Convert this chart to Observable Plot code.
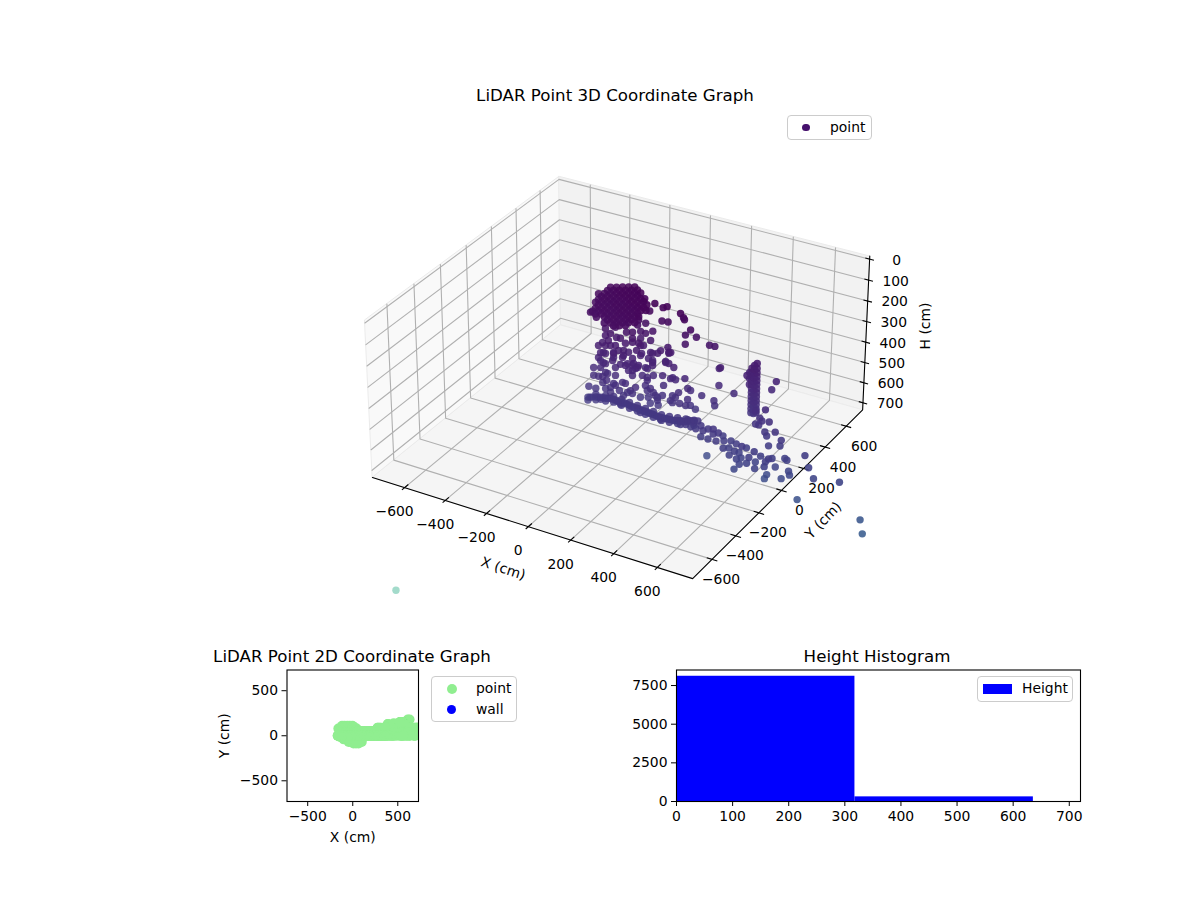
<!DOCTYPE html>
<html><head><meta charset="utf-8">
<script src="https://cdn.jsdelivr.net/npm/d3@7"></script>
<script src="https://cdn.jsdelivr.net/npm/@observablehq/plot@0.6"></script>
<style>
html,body{margin:0;padding:0;background:#fff}
#page{position:relative;width:1200px;height:900px;overflow:hidden;font-family:"DejaVu Sans",sans-serif;color:#000}
.slot{position:absolute}
.title{position:absolute;font-size:16.67px;line-height:20px;transform:translateX(-50%);white-space:nowrap}
.legend{position:absolute;background:#fff;border:1px solid #ccc;border-radius:4px;box-sizing:border-box}
.legend span{position:absolute;font-size:13.9px;line-height:16px;white-space:nowrap}
.legend i{position:absolute;display:block;border-radius:50%}
</style></head><body><div id="page"></div>
<script>
// [X cm, Y cm, H cm]
const blobPoints=[[-119,110,68],[-90,110,60],[-61,110,51],[-32,110,43],[-3,110,35],
[-160,80,95],[-131,80,86],[-102,80,78],[-73,80,70],[-44,80,62],[-15,80,53],[14,80,45],[43,80,37],
[-143,50,104],[-114,50,95],[-85,50,87],[-56,50,79],[-27,50,71],[2,50,62],[31,50,54],[60,50,46],[79,50,40],
[-126,20,113],[-97,20,105],[-68,20,96],[-39,20,88],[-10,20,80],[19,20,72],[48,20,63],[77,20,55],[106,20,47],
[-146,-10,137],[-137,-10,130],[-108,-10,122],[-79,-10,114],[-50,-10,105],[-21,-10,97],[8,-10,89],[37,-10,80],[66,-10,72],[95,-10,64],[119,-10,57],
[-100,-40,134],[-62,-40,123],[-33,-40,114],[-4,-40,106],[25,-40,98],[54,-40,90],[83,-40,81],[102,-40,76],
[-45,-70,132],[-16,-70,124],[13,-70,115],[42,-70,107],[71,-70,99],[100,-70,91],
[-125,95,78],[-96,95,69],[-68,95,61],[-39,95,53],[-10,95,45],[19,95,37],
[-137,65,95],[-108,65,87],[-79,65,79],[-50,65,70],[-22,65,62],[8,65,54],[37,65,45],
[-148,35,112],[-119,35,104],[-90,35,96],[-61,35,87],[-33,35,79],[-4,35,71],[25,35,63],[54,35,55],[83,35,46],
[-131,5,121],[-102,5,113],[-73,5,105],[-44,5,97],[-16,5,89],[13,5,80],[42,5,72],[71,5,64],[100,5,56],
[-114,-25,130],[-85,-25,122],[-56,-25,114],[-27,-25,106],[1,-25,98],[30,-25,89],[59,-25,81],[88,-25,73],
[-38,-55,123],[-9,-55,115],[19,-55,107],[48,-55,98],[77,-55,90],
[8,-85,124],[36,-85,116],[65,-85,107]];
const cloudNearPoints=[[79,0,117],[74,0,142],[50,0,183],[21,0,191],[-80,0,201],[-32,0,182],[-56,0,218],[-27,0,229],[-80,0,235],[-94,0,272],[-56,0,276],[-32,0,269],[16,0,245],[50,0,231],[79,0,227],[7,0,282],[69,0,264],[-104,0,324],[-80,0,321],[-114,0,350],[-90,0,368],[-46,0,345],[-41,0,310],[2,0,317],[-8,0,353],[50,0,308],[79,0,333],[50,0,342],[-138,0,405],[-104,0,396],[-32,0,375],[-80,0,413],[-138,0,443],[-114,0,441],[-75,0,449],[-94,0,465],[-32,0,413],[16,0,351],[31,0,371],[65,0,352],[50,0,390],[-162,0,503],[-128,0,503],[-80,0,490],[-56,0,502],[-32,0,461],[-13,0,481],[16,0,438],[65,0,443],[26,0,479],[50,0,477],
[-90,0,319],[-41,0,305],[-41,0,329],[7,0,306],[26,0,340],[55,0,331],[74,0,345],[-104,0,362],[-80,0,370],[50,0,366],[-70,0,415],[-94,0,436],[2,0,437],[-41,0,455],[-56,0,478],[40,0,466],[7,0,499],[-80,0,283],[-17,0,289],[31,0,284],[-66,0,255],[-8,0,228],[50,0,212],[-114,0,292]];
const cloudMidPoints=[[127,50,50],[166,50,59],[185,50,49],[103,50,92],[161,50,123],[190,50,120],[248,50,64],[267,50,88],[262,50,80],[296,50,128],[272,50,159],[272,50,202],[84,50,155],[118,50,183],[84,50,203],[60,50,200],[74,50,264],[65,50,304],[108,50,288],[142,50,282],[190,50,240],[204,50,261],[195,50,267],[118,50,323],[118,50,347],[180,50,310],[219,50,328],[93,50,369],[84,50,367],[69,50,409],[93,50,412],[122,50,394],[166,50,382],[180,50,315],[195,50,316],[214,50,378],[228,50,384],[272,50,366],[286,50,410],[93,50,426],[84,50,453],[108,50,461],[171,50,428],[166,50,478],[132,50,488],[142,50,509],[108,50,533],[146,50,532],[60,50,518],[214,50,465],[243,50,442],[214,50,499],[248,50,493],[286,50,463],[277,50,495],
[60,50,316],[118,50,289],[118,50,333],[93,50,475],[122,50,476],[142,50,495],[98,50,507],[204,50,492],[228,50,470],[204,50,386],[195,50,262],[60,50,268],[98,50,319],[156,50,265],[108,50,230],[60,50,234]];
const cloudFarPoints=[[302,90,180],[278,90,442],[331,90,451],[390,130,324],[390,130,405],[278,90,514],[302,90,526],[389,90,459],[393,90,482],[364,90,201],[389,90,199],[417,90,292],[456,140,430],[520,130,320],[631,180,342],[611,180,387],[630,90,432],[586,90,450],[605,90,479],[615,90,490],[586,90,513],[649,90,485],[601,90,513],[678,90,525],[630,90,539],[639,90,555],[649,90,600],[707,90,556],[702,90,585],[818,90,596],[726,90,638],[736,90,644],[837,90,649],[683,90,693],[745,90,694],[750,90,712],[644,90,742],[634,90,765],[861,90,695],[975,100,682],[1053,150,869],[1066,150,934],[712,90,741],[789,90,820],[360,90,736]];
const columnPoints=[[556,150,262],[532,150,292],[556,150,286],[532,150,312],[556,150,306],[532,150,331],[556,150,325],[532,150,350],[556,150,344],[532,150,369],[556,150,363],[532,150,389],[556,150,383],[532,150,408],[556,150,402],[532,150,427],[556,150,421],[532,150,447],[556,150,441],[532,150,466],[556,150,460],[532,150,486],[556,150,480],[532,150,505],[556,150,499],
[544,150,275],[544,150,294],[544,150,313],[544,150,333],[544,150,352],[544,150,371],[544,150,391],[544,150,410],[544,150,429],[544,150,449],[544,150,468],[544,150,487],[544,150,506],[522,150,315],[522,150,344],[522,150,372]];
const floorPoints=[[-167,0,558],[-147,0,552],[-128,0,546],[-104,0,540],[-80,0,538],[-61,0,532],[-41,0,532],[-22,0,536],[-3,0,536],[16,0,534],[36,0,539],[55,0,543],[74,0,542],[94,0,546],[113,0,546],[132,0,549],[151,0,549],[171,0,553],[190,0,553],[209,0,552],[228,0,551],[248,0,550],[267,0,545],[286,0,544],[306,0,539],[330,0,527],[363,0,518],[-104,0,550],[-8,0,546],[89,0,558],[185,0,563],[281,0,560],[330,0,556],
[-167,0,572],[-128,0,532],[-128,0,560],[-80,0,524],[-80,0,552],[-41,0,518],[-41,0,546],[-3,0,522],[-3,0,550],[36,0,525],[36,0,553],[74,0,528],[74,0,556],[113,0,532],[113,0,560],[151,0,535],[151,0,563],[190,0,539],[190,0,567],[228,0,537],[228,0,565],[267,0,531],[267,0,559],[306,0,525],[306,0,553],[345,0,520],[345,0,545],
[-157,0,555],[-116,0,543],[-92,0,539],[-70,0,535],[-51,0,532],[-31,0,534],[-12,0,536],[7,0,535],[26,0,537],[45,0,541],[65,0,543],[84,0,544],[103,0,546],[122,0,547],[141,0,549],[161,0,551],[180,0,553],[200,0,553],[219,0,551],[238,0,550],[257,0,548],[276,0,544],[296,0,541],[318,0,533],[346,0,523],
[281,0,541],[315,0,526],[344,0,533],[378,0,537],[354,0,559],[388,0,558],[412,0,543],[436,0,536],[460,0,548],[436,0,560],[378,0,590],[412,0,591],[450,0,590],[461,40,582],[466,40,605],[499,40,595],[484,0,614],[490,40,632],[524,40,602],[571,0,579],[572,40,607],[629,0,587],[537,0,613],[538,40,641],[513,0,639],[547,0,648],[548,40,663],[605,0,623],[639,40,627],[696,0,602],[692,40,622],[682,0,620],[595,0,654],[615,40,663],[677,0,645],[633,0,668],[537,0,700],[561,0,669]];
const outlierPoints=[[-1295,134,2000]];
const allPoints=[...blobPoints,...cloudNearPoints,...cloudMidPoints,...cloudFarPoints,...columnPoints,...floorPoints,...outlierPoints];
const xyTicks=[-600,-400,-200,0,200,400,600];
const hTicks=[0,100,200,300,400,500,600,700];
const binEdges=[0,318,636];
const binCounts=[8100,300];

const page=document.getElementById("page");
const font={fontFamily:"DejaVu Sans",fontSize:"13.9px",background:"transparent",color:"#000",overflow:"visible"};
function slot(el,left,top){const d=document.createElement("div");d.className="slot";d.style.left=left+"px";d.style.top=top+"px";d.appendChild(el);page.appendChild(d);}
function title(t,cx,top){const d=document.createElement("div");d.className="title";d.textContent=t;d.style.left=cx+"px";d.style.top=top+"px";page.appendChild(d);}
function legend(l,t,w,h,items){const b=document.createElement("div");b.className="legend";Object.assign(b.style,{left:l+"px",top:t+"px",width:w+"px",height:h+"px"});
 for(const it of items){const m=document.createElement("i");const r=it.r;Object.assign(m.style,{left:(it.mx-l-1-(it.w?it.w/2:r))+"px",top:(it.my-t-1-(it.h?it.h/2:r))+"px",width:(it.w||2*r)+"px",height:(it.h||2*r)+"px",background:it.c,borderRadius:it.w?"0":"50%"});b.appendChild(m);
  const s=document.createElement("span");s.textContent=it.t;s.style.left=(it.tx-l-1)+"px";s.style.top=(it.my-t-1-9)+"px";b.appendChild(s);}
 page.appendChild(b);}

// ---- 3D view: elevation 30, azimuth -60
const limXY=730,limH=720,edgeXY=760,hBack=-15,hFloor=735;
const K=0.5714/limXY;
function view(x,y,h){const dx=K*x,dy=K*y,dz=0.5714*(0.5-h/limH);
 const xv=0.866*dx+0.5*dy,yv=-0.25*dx+0.433*dy+0.866*dz,zv=0.433*dx-0.75*dy+0.5*dz,depth=10-zv;
 return {px:10*xv/depth,py:10*yv/depth,depth};}
const P=(x,y,h,extra={})=>{const v=view(x,y,h);return {px:v.px,py:v.py,...extra};};

const pts=allPoints.map(([x,y,h])=>{const v=view(x,y,h);return {x,y,h,...v};});
const [dMin,dMax]=d3.extent(pts,d=>d.depth);
pts.forEach(d=>d.alpha=0.92-0.5*(d.depth-dMin)/(dMax-dMin));
pts.sort((a,b)=>d3.descending(a.depth,b.depth));

const paneLeft=[P(-edgeXY,-edgeXY,hFloor),P(-edgeXY,edgeXY,hFloor),P(-edgeXY,edgeXY,hBack),P(-edgeXY,-edgeXY,hBack)];
const paneBack=[P(-edgeXY,edgeXY,hFloor),P(edgeXY,edgeXY,hFloor),P(edgeXY,edgeXY,hBack),P(-edgeXY,edgeXY,hBack)];
const paneFloor=[P(-edgeXY,-edgeXY,hFloor),P(edgeXY,-edgeXY,hFloor),P(edgeXY,edgeXY,hFloor),P(-edgeXY,edgeXY,hFloor)];
const gridRows=[];
xyTicks.forEach(t=>{const a="x"+t;gridRows.push(P(t,-edgeXY,hFloor,{id:a}),P(t,edgeXY,hFloor,{id:a}),P(t,edgeXY,hBack+3,{id:a}));
 const b="y"+t;gridRows.push(P(edgeXY,t,hFloor,{id:b}),P(-edgeXY,t,hFloor,{id:b}),P(-edgeXY,t,hBack+3,{id:b}));});
hTicks.forEach(t=>{const a="h"+t;gridRows.push(P(-edgeXY,-edgeXY,t,{id:a}),P(-edgeXY,edgeXY,t,{id:a}),P(edgeXY,edgeXY,t,{id:a}));});
const axisRows=[P(-edgeXY,-edgeXY,hFloor,{id:1}),P(edgeXY,-edgeXY,hFloor,{id:1}),P(edgeXY,edgeXY,hFloor,{id:1}),P(edgeXY,edgeXY,hBack,{id:1})];
const seg=(a,b)=>({x1:a.px,y1:a.py,x2:b.px,y2:b.py});
const tickSegs=[
 ...xyTicks.map(t=>seg(P(t,-edgeXY+28,hFloor),P(t,-edgeXY-20,hFloor))),
 ...xyTicks.map(t=>seg(P(edgeXY-24,t,hFloor),P(edgeXY+24,t,hFloor))),
 ...hTicks.map(t=>seg(P(edgeXY-20,edgeXY,t),P(edgeXY+20,edgeXY,t)))];
const fmt=d3.format("d");
const xLabels=xyTicks.map(t=>P(t,-edgeXY,hFloor,{t:fmt(t)}));
const yLabelsNeg=xyTicks.filter(t=>t<0).map(t=>P(edgeXY,t,hFloor,{t:fmt(t)}));
const yLabelsPos=xyTicks.filter(t=>t>=0).map(t=>P(edgeXY,t,hFloor,{t:fmt(t)}));
const hLabels=hTicks.map(t=>P(edgeXY,edgeXY,t,{t:fmt(t)}));
const text=(rows,dx,dy,extra={})=>Plot.text(rows,{x:"px",y:"py",text:"t",dx,dy,fontSize:13.9,fill:"#000",textAnchor:"middle",lineAnchor:"middle",...extra});
const pane=(rows,fill)=>Plot.line(rows,{x:"px",y:"py",curve:"linear-closed",fill,stroke:"#ebebeb",strokeWidth:1});
const w3=1200,h3=640,sx=306,sy=302,cx=621.6,cy=365.8;
const plot3=Plot.plot({width:w3,height:h3,margin:0,style:font,
 x:{axis:null,domain:[-cx/sx,(w3-cx)/sx],range:[0,w3]},
 y:{axis:null,domain:[cy/sy,(cy-h3)/sy],range:[0,h3]},
 color:{type:"linear",scheme:"viridis",domain:[0,3300]},
 opacity:{type:"identity"},
 marks:[
  pane(paneLeft,"#f9f9f9"),pane(paneBack,"#f2f2f2"),pane(paneFloor,"#f5f5f5"),
  Plot.line(gridRows,{x:"px",y:"py",z:"id",stroke:"#b0b0b0",strokeWidth:1.1}),
  Plot.line(axisRows,{x:"px",y:"py",stroke:"#000",strokeWidth:1.1}),
  Plot.link(tickSegs,{x1:"x1",y1:"y1",x2:"x2",y2:"y2",stroke:"#000",strokeWidth:1.1}),
  text(xLabels,-10,24),text(yLabelsNeg,9,20),text(yLabelsPos,18,20),text(hLabels,27,1),
  text([P(0,-edgeXY,hFloor,{t:"X (cm)"})],-25,42,{rotate:18}),
  text([P(edgeXY,0,hFloor,{t:"Y (cm)"})],42,30,{rotate:-46}),
  text([P(edgeXY,edgeXY,360,{t:"H (cm)"})],59,-8,{rotate:-90}),
  Plot.dot(pts,{x:"px",y:"py",r:3.7,fill:"h",fillOpacity:"alpha",stroke:"none"})
 ]});
slot(plot3,0,0);
title("LiDAR Point 3D Coordinate Graph",615,86);
legend(787,115,85,25,[{t:"point",mx:806,my:127.5,r:3.6,c:"#46116d",tx:830}]);

// ---- 2D view
const plot2=Plot.plot({width:340,height:210,marginLeft:86.5,marginRight:122,marginTop:29.5,marginBottom:49,style:font,
 x:{domain:[-730,730]},y:{domain:[-730,730]},
 marks:[
  Plot.dot(allPoints,{x:d=>d[0],y:d=>d[1],r:5,fill:"#90ee90",clip:true}),
  Plot.frame({stroke:"#000",strokeWidth:1.1}),
  Plot.axisX({ticks:[-500,0,500],tickFormat:"d",tickSize:5,tickPadding:5,label:"X (cm)",labelAnchor:"center",labelArrow:"none",labelOffset:40,fontSize:13.9}),
  Plot.axisY({ticks:[-500,0,500],tickFormat:"d",tickSize:5,tickPadding:4,label:"Y (cm)",labelAnchor:"center",labelArrow:"none",labelOffset:68,fontSize:13.9})
 ]});
slot(plot2,200,640);
title("LiDAR Point 2D Coordinate Graph",352,647);
legend(431,676,86,46,[{t:"point",mx:451.5,my:689,r:5,c:"#90ee90",tx:476},{t:"wall",mx:451.5,my:709.5,r:4.5,c:"#0000ff",tx:476}]);

// ---- Histogram
const bars=binCounts.map((c,i)=>({x1:binEdges[i],x2:binEdges[i+1],c}));
const plotH=Plot.plot({width:460,height:210,marginLeft:56,marginRight:0,marginTop:29.5,marginBottom:49,style:font,
 x:{domain:[0,720],range:[56,460]},y:{domain:[0,8505]},
 marks:[
  Plot.rectY(bars,{x1:"x1",x2:"x2",y:"c",fill:"#0000ff",inset:0}),
  Plot.frame({stroke:"#000",strokeWidth:1.1}),
  Plot.axisX({ticks:[0,100,200,300,400,500,600,700],tickFormat:"d",tickSize:5,tickPadding:5,label:null,fontSize:13.9}),
  Plot.axisY({ticks:[0,2500,5000,7500],tickFormat:"d",tickSize:5,tickPadding:4,label:null,fontSize:13.9})
 ]});
slot(plotH,620,640);
title("Height Histogram",877,647);
legend(977,676,96,26,[{t:"Height",mx:997.5,my:688.5,w:29,h:10,c:"#0000ff",tx:1022}]);
</script></body></html>
